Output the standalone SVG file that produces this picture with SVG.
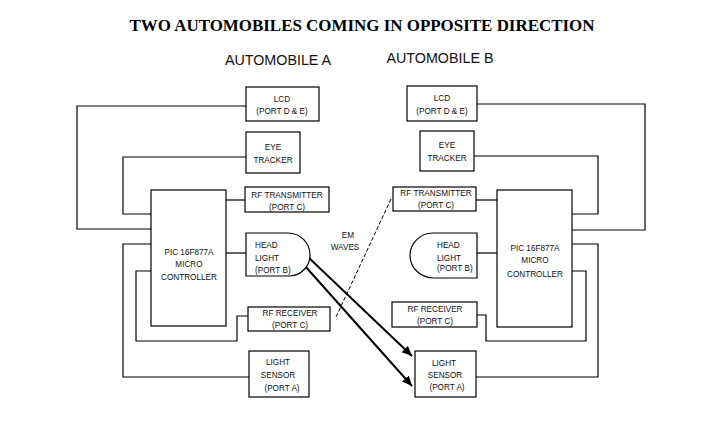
<svg xmlns="http://www.w3.org/2000/svg" width="724" height="439" viewBox="0 0 724 439">
<style>
  .box{fill:#fff;stroke:#000;stroke-width:1.2}
  .wire{fill:none;stroke:#000;stroke-width:1.2}
  .t{font-family:"Liberation Sans",Arial,sans-serif;font-size:8.2px;fill:#111;text-anchor:middle}
  .tl{font-family:"Liberation Sans",Arial,sans-serif;font-size:8.2px;fill:#111;text-anchor:start}
  .h{font-family:"Liberation Sans",Arial,sans-serif;font-size:14.3px;fill:#111;text-anchor:middle}
  .title{font-family:"Liberation Serif","Times New Roman",serif;font-weight:bold;font-size:16.5px;fill:#000;text-anchor:middle}
  .arrow{fill:none;stroke:#000;stroke-width:2;marker-end:url(#ah)}
</style>
<defs>
  <marker id="ah" markerUnits="userSpaceOnUse" markerWidth="12" markerHeight="10" refX="10" refY="4.5" orient="auto">
    <path d="M0,0 L10,4.5 L0,9 Z" fill="#000"/>
  </marker>
</defs>
<rect width="724" height="439" fill="#fff"/>

<text class="title" x="362" y="31" textLength="465" lengthAdjust="spacingAndGlyphs">TWO AUTOMOBILES COMING IN OPPOSITE DIRECTION</text>
<text class="h" x="278" y="65">AUTOMOBILE A</text>
<text class="h" x="440" y="63">AUTOMOBILE B</text>

<g id="connectors">
  <path class="wire" d="M246,106 H77 V229 H151"/>
  <path class="wire" d="M246,157 H123 V214 H151"/>
  <path class="wire" d="M249,377 H123 V244 H151"/>
  <path class="wire" d="M151,271 H136 V341 H237 V316 H248"/>
  <path class="wire" d="M226,200 H245"/>
  <path class="wire" d="M226,253 H246"/>
  <path class="wire" d="M477,104 H645 V230 H572"/>
  <path class="wire" d="M474,156 H598 V214 H572"/>
  <path class="wire" d="M476,377 H598 V244 H572"/>
  <path class="wire" d="M572,271 H586 V341 H486 V315 H477"/>
  <path class="wire" d="M476,200 H497"/>
  <path class="wire" d="M477,253 H497"/>
  <path d="M391,199 L336,317" fill="none" stroke="#000" stroke-width="1" stroke-dasharray="4,2"/>
  <path class="arrow" d="M308,257 L412,356"/>
  <path class="arrow" d="M305,266 L412,386"/>
</g>

<g id="em-label">
  <text class="t" x="348" y="238">EM</text>
  <text class="t" x="345" y="250">WAVES</text>
</g>

<g id="a-lcd">
  <rect class="box" x="246" y="87" width="73" height="34"/>
  <text class="t" x="282" y="102">LCD</text>
  <text class="t" x="282" y="114">(PORT D &amp; E)</text>
</g>
<g id="a-eye">
  <rect class="box" x="246" y="132" width="54" height="41"/>
  <text class="t" x="273" y="149.5">EYE</text>
  <text class="t" x="273" y="163">TRACKER</text>
</g>
<g id="a-pic">
  <rect class="box" x="151" y="190" width="75" height="136"/>
  <text class="t" x="189" y="255">PIC 16F877A</text>
  <text class="t" x="189" y="267">MICRO</text>
  <text class="t" x="189" y="280">CONTROLLER</text>
</g>
<g id="a-rftx">
  <rect class="box" x="245" y="187" width="84" height="25"/>
  <text class="t" x="287" y="198">RF TRANSMITTER</text>
  <text class="t" x="287" y="209.5">(PORT C)</text>
</g>
<g id="a-head">
  <path class="box" d="M246,233 H288 A22,22 0 0 1 310,255 A21,21 0 0 1 290,276 H246 Z"/>
  <text class="tl" x="255" y="248">HEAD</text>
  <text class="tl" x="255" y="261">LIGHT</text>
  <text class="tl" x="255" y="272.5">(PORT B)</text>
</g>
<g id="a-rfrx">
  <rect class="box" x="248" y="307" width="82" height="24"/>
  <text class="t" x="290" y="315.5">RF RECEIVER</text>
  <text class="t" x="290" y="328">(PORT C)</text>
</g>
<g id="a-sensor">
  <rect class="box" x="249" y="351" width="60" height="46"/>
  <text class="t" x="278" y="364.5">LIGHT</text>
  <text class="t" x="278" y="378">SENSOR</text>
  <text class="t" x="282" y="390.5">(PORT A)</text>
</g>

<g id="b-lcd">
  <rect class="box" x="407" y="86" width="70" height="35"/>
  <text class="t" x="442" y="101">LCD</text>
  <text class="t" x="442" y="113.5">(PORT D &amp; E)</text>
</g>
<g id="b-eye">
  <rect class="box" x="420" y="131" width="54" height="40"/>
  <text class="t" x="447" y="148">EYE</text>
  <text class="t" x="447" y="161">TRACKER</text>
</g>
<g id="b-pic">
  <rect class="box" x="497" y="190" width="75" height="137"/>
  <text class="t" x="535" y="251">PIC 16F877A</text>
  <text class="t" x="535" y="263">MICRO</text>
  <text class="t" x="535" y="277">CONTROLLER</text>
</g>
<g id="b-rftx">
  <rect class="box" x="393" y="187" width="83" height="24"/>
  <text class="t" x="436" y="195.5">RF TRANSMITTER</text>
  <text class="t" x="436" y="208">(PORT C)</text>
</g>
<g id="b-head">
  <path class="box" d="M477,233 H433 A23,22.5 0 0 0 410,255.5 A24,22.5 0 0 0 435,278 H477 Z"/>
  <text class="tl" x="437" y="248">HEAD</text>
  <text class="tl" x="437" y="261">LIGHT</text>
  <text class="tl" x="437" y="271">(PORT B)</text>
</g>
<g id="b-rfrx">
  <rect class="box" x="392" y="302" width="85" height="25"/>
  <text class="t" x="435" y="312">RF RECEIVER</text>
  <text class="t" x="435" y="324">(PORT C)</text>
</g>
<g id="b-sensor">
  <rect class="box" x="415" y="351" width="61" height="46"/>
  <text class="t" x="444" y="366">LIGHT</text>
  <text class="t" x="445" y="378">SENSOR</text>
  <text class="t" x="447" y="389.5">(PORT A)</text>
</g>
</svg>
